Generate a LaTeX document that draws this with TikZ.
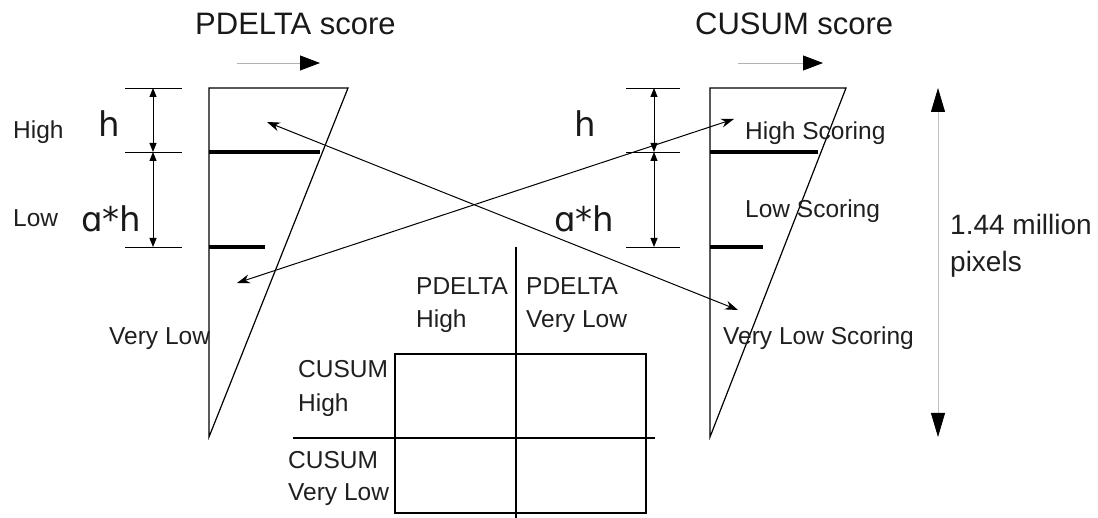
\documentclass[tikz,border=0pt]{standalone}
\usepackage{fontspec}
\setmainfont{Liberation Sans}
\newfontfamily\symfnt{DejaVu Sans}
\usetikzlibrary{arrows.meta}
\begin{document}
\begin{tikzpicture}[x=1pt,y=-1pt,
  lbl/.style={anchor=base west,inner sep=0pt,text=black!88,font=\fontsize{24.5}{28}\selectfont},
  big/.style={anchor=base west,inner sep=0pt,text=black!88,font=\fontsize{28}{31}\selectfont},
  ttl/.style={anchor=base west,inner sep=0pt,text=black!90,font=\fontsize{31}{34}\selectfont},
  sym/.style={anchor=base west,inner sep=0pt,text=black!90,font=\symfnt\fontsize{34}{36}\selectfont},
  outline/.style={line width=1.2pt},
  bar/.style={line width=4.5pt},
  tick/.style={line width=0.9pt},
  dimarrow/.style={line width=0.9pt,{Triangle[length=9pt,width=7pt]}-{Triangle[length=9pt,width=7pt]}},
  dirarrow/.style={line width=0.8pt,draw=gray!60,-{Triangle[length=20pt,width=15pt,color=black]}},
  spanarrow/.style={line width=0.8pt,draw=gray!50,{Triangle[length=24pt,width=14pt,color=black]}-{Triangle[length=24pt,width=14pt,color=black]}},
  cross/.style={line width=1pt,{Stealth[length=13pt,width=9pt]}-{Stealth[length=13pt,width=9pt]}},
  ]
\useasboundingbox (0,0) rectangle (1098,518);

% titles
\node[ttl] (tP) at (195,35) {PDELTA score};
\node[ttl] (tC) at (695,35) {CUSUM score};

% direction arrows
\coordinate (dPa) at (237,63); \coordinate (dPb) at (320,63);
\coordinate (dCa) at (738,63); \coordinate (dCb) at (823,63);
\draw[dirarrow] (dPa) -- (dPb);
\draw[dirarrow] (dCa) -- (dCb);

% left (PDELTA) distribution
\coordinate (LT) at (209,88); \coordinate (LR) at (348,88); \coordinate (LB) at (209,437);
\draw[outline,line join=miter] (LR) -- (LT) -- (LB) -- cycle;
\coordinate (Lb1a) at (209,152); \coordinate (Lb1b) at (320,152);
\coordinate (Lb2a) at (209,247); \coordinate (Lb2b) at (265,247);
\draw[bar] (Lb1a) -- (Lb1b);
\draw[bar] (Lb2a) -- (Lb2b);

% left dimension lines
\coordinate (Lt1a) at (125,88);  \coordinate (Lt1b) at (182,88);
\coordinate (Lt2a) at (125,152); \coordinate (Lt2b) at (182,152);
\coordinate (Lt3a) at (125,247); \coordinate (Lt3b) at (182,247);
\draw[tick] (Lt1a) -- (Lt1b);
\draw[tick] (Lt2a) -- (Lt2b);
\draw[tick] (Lt3a) -- (Lt3b);
\coordinate (Ld1) at (153,88); \coordinate (Ld2) at (153,152); \coordinate (Ld3) at (153,247);
\draw[dimarrow] (Ld1) -- (Ld2);
\draw[dimarrow] (Ld2) -- (Ld3);

% right (CUSUM) distribution
\coordinate (RT) at (710,88); \coordinate (RR) at (846,88); \coordinate (RB) at (710,437);
\draw[outline,line join=miter] (RR) -- (RT) -- (RB) -- cycle;
\coordinate (Rb1a) at (710,152); \coordinate (Rb1b) at (818,152);
\coordinate (Rb2a) at (710,247); \coordinate (Rb2b) at (763,247);
\draw[bar] (Rb1a) -- (Rb1b);
\draw[bar] (Rb2a) -- (Rb2b);

% right dimension lines
\coordinate (Rt1a) at (626,88);  \coordinate (Rt1b) at (680,88);
\coordinate (Rt2a) at (626,152); \coordinate (Rt2b) at (680,152);
\coordinate (Rt3a) at (626,247); \coordinate (Rt3b) at (680,247);
\draw[tick] (Rt1a) -- (Rt1b);
\draw[tick] (Rt2a) -- (Rt2b);
\draw[tick] (Rt3a) -- (Rt3b);
\coordinate (Rd1) at (654,88); \coordinate (Rd2) at (654,152); \coordinate (Rd3) at (654,247);
\draw[dimarrow] (Rd1) -- (Rd2);
\draw[dimarrow] (Rd2) -- (Rd3);

% left labels
\node[lbl] (lHigh) at (13,139) {High};
\node[lbl] (lLow) at (13,227) {Low};
\node[lbl] (lVL) at (109,345) {Very Low};
\node[sym] (lh) at (98,137) {h};
\node[sym] (lah) at (81,232) {ɑ*h};

% right labels
\node[sym] (rh) at (574,137) {h};
\node[sym] (rah) at (554,232) {ɑ*h};
\node[lbl] (rHS) at (745,140) {High Scoring};
\node[lbl] (rLS) at (745,218) {Low Scoring};
\node[lbl] (rVLS) at (723,345) {Very Low Scoring};

% total span arrow
\coordinate (Sa) at (938,88); \coordinate (Sb) at (938,437);
\draw[spanarrow] (Sa) -- (Sb);
\node[big] (mil) at (950,235) {1.44 million};
\node[big] (pix) at (950,272) {pixels};

% crossing arrows
\coordinate (Xa1) at (267,122); \coordinate (Xa2) at (738,310);
\coordinate (Xb1) at (237,283); \coordinate (Xb2) at (734,119);
\draw[cross] (Xa1) -- (Xa2);
\draw[cross] (Xb1) -- (Xb2);

% contingency table
\coordinate (Tv1) at (516,247); \coordinate (Tv2) at (516,518);
\coordinate (Th1) at (293,438); \coordinate (Th2) at (655,438);
\coordinate (Bx1) at (395,354); \coordinate (Bx2) at (646,513);
\draw[outline] (Bx1) rectangle (Bx2);
\draw[outline] (Tv1) -- (Tv2);
\draw[outline] (Th1) -- (Th2);

\node[lbl] (pH1) at (416,295) {PDELTA};
\node[lbl] (pH2) at (416,328) {High};
\node[lbl] (pV1) at (526,295) {PDELTA};
\node[lbl] (pV2) at (526,328) {Very Low};
\node[lbl] (cH1) at (298,378) {CUSUM};
\node[lbl] (cH2) at (298,412) {High};
\node[lbl] (cV1) at (288,468) {CUSUM};
\node[lbl] (cV2) at (288,500) {Very Low};
\end{tikzpicture}
\end{document}
